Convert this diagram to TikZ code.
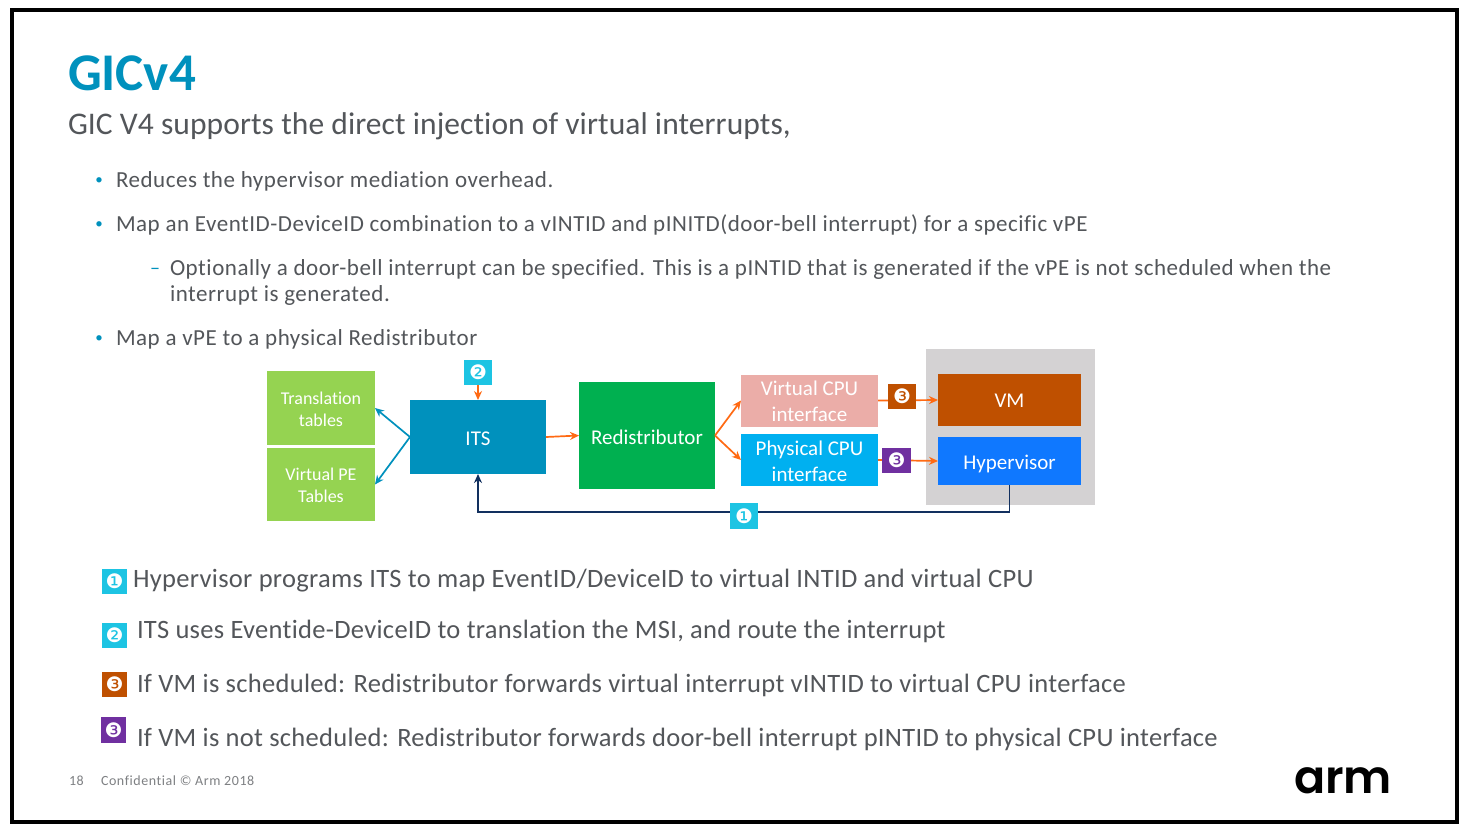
\documentclass[tikz,border=0pt]{standalone}
\usepackage{fontspec}
\setmainfont{Carlito}[Ligatures=NoCommon]
\newfontfamily\bodyfont{Carlito}[Ligatures=NoCommon,LetterSpace=2.3]
\newfontfamily\legendfont{Carlito}[Ligatures=NoCommon,LetterSpace=1.15]
\newfontfamily\subfont{Carlito}[Ligatures=NoCommon,LetterSpace=0.26]
\newfontfamily\footfont{Carlito}[Ligatures=NoCommon,LetterSpace=4]
\newfontfamily\dingfont{DejaVu Sans}
\newfontfamily\logofont{Poppins}[UprightFont=* SemiBold]
\usetikzlibrary{arrows.meta}
\definecolor{titleblue}{HTML}{0091BD}
\definecolor{slate}{HTML}{53565A}
\definecolor{lightgreen}{HTML}{95D351}
\definecolor{itsblue}{HTML}{0091BD}
\definecolor{redisgreen}{HTML}{00B050}
\definecolor{vcpu}{HTML}{EBADA8}
\definecolor{pcpu}{HTML}{00B0F0}
\definecolor{vmorange}{HTML}{BF5000}
\definecolor{hypblue}{HTML}{0F78FF}
\definecolor{panelgray}{HTML}{D4D2D3}
\definecolor{badgecyan}{HTML}{1DC4E3}
\definecolor{badgepurple}{HTML}{7030A0}
\definecolor{arroworange}{HTML}{FF6A13}
\definecolor{navy}{HTML}{12305F}
\newcommand\drop[2]{\raisebox{-#1}[\height][\depth]{\begin{tabular}{@{}c@{}}#2\end{tabular}}}
\tikzset{
  x=1pt,y=-1pt,
  boxnode/.style={draw=none,inner sep=0pt,outer sep=0pt,align=center,text=white,font=\fontsize{21}{26}\selectfont},
  smallbox/.style={boxnode,font=\fontsize{18}{22}\selectfont},
  badge/.style={inner sep=0pt,outer sep=0pt,text=white,font=\dingfont\fontsize{20}{20}\selectfont,minimum width=#1},
  orangearrow/.style={draw=arroworange,line width=1.7pt,-{Stealth[length=9pt,width=8pt]}},
  bluearrow/.style={draw=itsblue,line width=1.7pt,-{Stealth[length=9pt,width=8pt]}},
  navyarrow/.style={draw=navy,line width=1.7pt,-{Stealth[length=9pt,width=8pt]}},
  textline/.style={anchor=base west,inner sep=0pt,outer sep=0pt,text=slate},
  bodyline/.style={textline,font=\bodyfont\fontsize{23}{23}\selectfont},
  legendline/.style={textline,font=\legendfont\fontsize{26.5}{26.5}\selectfont},
  footline/.style={textline,text=slate!75,font=\footfont\fontsize{14}{14}\selectfont},
  bulletmark/.style={anchor=base,inner sep=0pt,text=titleblue,font=\fontsize{15}{15}\selectfont},
}
\begin{document}
\begin{tikzpicture}
\useasboundingbox (0,0) rectangle (1473,831);
\fill[white] (0,0) rectangle (1473,831);
\draw[black,line width=4pt] (12,10) rectangle (1457,821.5);
% heading
\node[textline,text=titleblue,font=\bfseries\fontsize{53}{53}\selectfont] (title) at (68,90) {GICv4};
\node[textline,font=\subfont\fontsize{31.5}{31.5}\selectfont] (sub) at (68,134) {GIC V4 supports the direct injection of virtual interrupts,};
% bullets
\node[bulletmark] (b1) at (99,184) {•};
\node[bodyline] (l1) at (116,187) {Reduces the hypervisor mediation overhead.};
\node[bulletmark] (b2) at (99,228) {•};
\node[bodyline] (l2) at (116,231) {Map an EventID-DeviceID combination to a vINTID and pINITD(door-bell interrupt) for a specific vPE};
\node[bulletmark,font=\fontsize{20}{20}\selectfont] (b3) at (155,274) {–};
\node[bodyline] (l3) at (170,275) {Optionally a door-bell interrupt can be specified. This is a pINTID that is generated if the vPE is not scheduled when the};
\node[bodyline] (l3b) at (170,301) {interrupt is generated.};
\node[bulletmark] (b4) at (99,342) {•};
\node[bodyline] (l4) at (116,345) {Map a vPE to a physical Redistributor};
% panel
\node[boxnode,fill=panelgray,minimum width=169pt,minimum height=156pt] (panel) at (1010.5,427) {};
% boxes
\node[smallbox,fill=lightgreen,minimum width=108pt,minimum height=74pt] (trans) at (321,408) {\drop{3pt}{Translation\\tables}};
\node[smallbox,fill=lightgreen,minimum width=108pt,minimum height=73pt] (vpe) at (321,484.5) {\drop{3pt}{Virtual PE\\Tables}};
\node[boxnode,fill=itsblue,minimum width=136pt,minimum height=74pt] (its) at (478,437) {\drop{3pt}{ITS}};
\node[boxnode,fill=redisgreen,minimum width=136pt,minimum height=107pt] (red) at (647,435.5) {\drop{4pt}{Redistributor}};
\node[boxnode,fill=vcpu,minimum width=137pt,minimum height=51pt] (virt) at (809.5,400.5) {\drop{3pt}{Virtual CPU\\interface}};
\node[boxnode,fill=pcpu,minimum width=137pt,minimum height=52pt] (phys) at (809.5,460) {\drop{3pt}{Physical CPU\\interface}};
\node[boxnode,fill=vmorange,minimum width=143pt,minimum height=52pt] (vm) at (1009.5,400) {\drop{2pt}{VM}};
\node[boxnode,fill=hypblue,minimum width=143pt,minimum height=48pt] (hyp) at (1009.5,461) {\drop{3pt}{Hypervisor}};
% connectors
\coordinate (busc) at (744,512);
\draw[bluearrow] (its.west) -- (trans.east);
\draw[bluearrow] (its.west) -- (vpe.east);
\draw[orangearrow] (its.east) -- (red.west);
\draw[orangearrow] (red.east) -- (virt.west);
\draw[orangearrow] (red.east) -- (phys.west);
\draw[orangearrow] (virt.east) -- (vm.west);
\draw[orangearrow] (phys.east) -- (hyp.west);
\draw[navyarrow] (hyp.south) |- (busc) -| (its.south);
% badges
\node[badge=28pt,fill=badgecyan,minimum height=25pt] (n2) at (478,372.5) {❷};
\draw[orangearrow] (n2.south) -- (its.north);
\node[badge=28pt,fill=vmorange,minimum height=25pt] (n3a) at (902,396.5) {❸};
\node[badge=29pt,fill=badgepurple,minimum height=25pt] (n3b) at (896.5,460.5) {❸};
\node[badge=28pt,fill=badgecyan,minimum height=26pt] (n1) at (744,516) {❶};
% legend
\node[badge=25pt,fill=badgecyan,minimum height=25pt] (k1) at (114.5,581.5) {❶};
\node[legendline] (t1) at (133,587) {Hypervisor programs ITS to map EventID/DeviceID to virtual INTID and virtual CPU};
\node[badge=25pt,fill=badgecyan,minimum height=25pt] (k2) at (114.5,635.5) {❷};
\node[legendline] (t2) at (137,638) {ITS uses Eventide-DeviceID to translation the MSI, and route the interrupt};
\node[badge=25pt,fill=vmorange,minimum height=25pt] (k3) at (114.5,684.5) {❸};
\node[legendline] (t3) at (137,692) {If VM is scheduled: Redistributor forwards virtual interrupt vINTID to virtual CPU interface};
\node[badge=25pt,fill=badgepurple,minimum height=26pt] (k4) at (113.5,730) {❸};
\node[legendline] (t4) at (137,746) {If VM is not scheduled: Redistributor forwards door-bell interrupt pINTID to physical CPU interface};
% footer
\node[footline] (pg) at (69,785) {18};
\node[footline] (conf) at (101,785) {Confidential © Arm 2018};
\node[textline,font=\logofont\fontsize{46}{46}\selectfont,text=black] (logo) at (1294,793) {arm};
\end{tikzpicture}
\end{document}
